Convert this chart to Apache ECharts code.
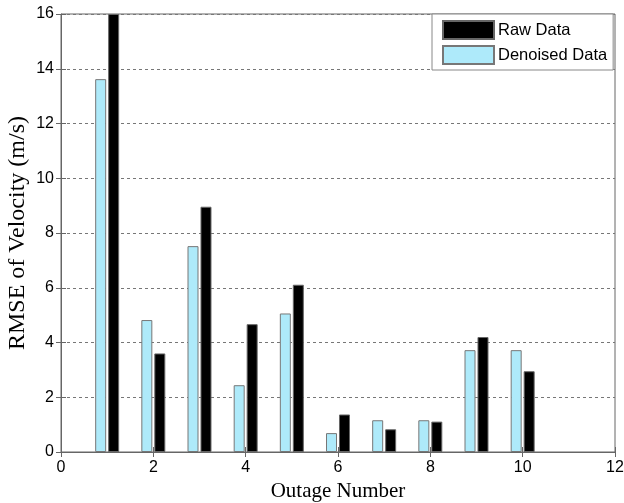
<!DOCTYPE html>
<html>
<head>
<meta charset="utf-8">
<script src="https://cdn.jsdelivr.net/npm/echarts@6/dist/echarts.min.js"></script>
<style>
  html, body { margin: 0; padding: 0; background: #fff; }
  #chart { width: 624px; height: 503px; }
</style>
</head>
<body>
<div id="chart"></div>
<script>
const outages = [1, 2, 3, 4, 5, 6, 7, 8, 9, 10]
const denoised = [13.62, 4.82, 7.52, 2.44, 5.06, 0.69, 1.16, 1.16, 3.72, 3.72]
const raw = [16, 3.6, 8.96, 4.67, 6.11, 1.37, 0.83, 1.11, 4.2, 2.95]

let chart = echarts.init(document.getElementById('chart'))

const pairs = vals => outages.map((o, i) => [o, vals[i]])
const tickFont = { color: '#000', fontSize: 16, fontFamily: 'Liberation Sans' }

chart.setOption({
  animation: false,
  grid: {
    left: 61, right: 9, top: 14, bottom: 51,
    outerBoundsMode: 'none', containLabel: false,
    show: true, borderColor: '#666', borderWidth: 1
  },
  legend: {
    orient: 'vertical',
    left: 432,
    top: 14,
    padding: [6, 6, 5, 10],
    itemGap: 5,
    itemWidth: 51,
    itemHeight: 18,
    icon: 'rect',
    backgroundColor: '#fff',
    borderColor: '#888',
    borderWidth: 1,
    borderRadius: 0,
    data: ['Raw Data', 'Denoised Data'],
    textStyle: { color: '#000', fontSize: 16.5, fontFamily: 'Liberation Sans', padding: [0, 0, 0, -1] }
  },
  xAxis: [
    {
      type: 'value', min: 0, max: 12, interval: 2,
      name: 'Outage Number', nameLocation: 'middle', nameGap: 29,
      nameMoveOverlap: false,
      nameTextStyle: { color: '#000', fontSize: 21, fontFamily: 'Liberation Serif' },
      axisLine: { lineStyle: { color: '#666' } },
      axisTick: { inside: true, length: 5, lineStyle: { color: '#666' } },
      axisLabel: Object.assign({ margin: 8 }, tickFont),
      splitLine: { show: false }
    },
    {
      type: 'value', min: 0, max: 12, interval: 2, position: 'top',
      axisLine: { show: false },
      axisTick: { inside: true, length: 5, lineStyle: { color: '#666' } },
      axisLabel: { show: false },
      splitLine: { show: false }
    }
  ],
  yAxis: [
    {
      type: 'value', min: 0, max: 16, interval: 2,
      name: 'RMSE of Velocity (m/s)', nameLocation: 'middle', nameGap: 31,
      nameMoveOverlap: false,
      nameTextStyle: { color: '#000', fontSize: 24, fontFamily: 'Liberation Serif' },
      axisLine: { show: true, lineStyle: { color: '#666' } },
      axisTick: { show: true, inside: true, length: 5, lineStyle: { color: '#666' } },
      axisLabel: Object.assign({ margin: 7 }, tickFont),
      splitLine: { show: true, lineStyle: { color: '#777', type: [3, 3] } }
    },
    {
      type: 'value', min: 0, max: 16, interval: 2, position: 'right',
      axisLine: { show: false },
      axisTick: { show: true, inside: true, length: 5, lineStyle: { color: '#666' } },
      axisLabel: { show: false },
      splitLine: { show: false }
    }
  ],
  series: [
    {
      name: 'Denoised Data',
      type: 'bar',
      barWidth: 11,
      barGap: '18%',
      itemStyle: { color: '#aeeafa', borderColor: '#777', borderWidth: 1 },
      data: pairs(denoised)
    },
    {
      name: 'Raw Data',
      type: 'bar',
      barWidth: 11,
      barGap: '18%',
      itemStyle: { color: '#000', borderColor: '#666', borderWidth: 1 },
      data: pairs(raw)
    }
  ]
})
</script>
</body>
</html>
